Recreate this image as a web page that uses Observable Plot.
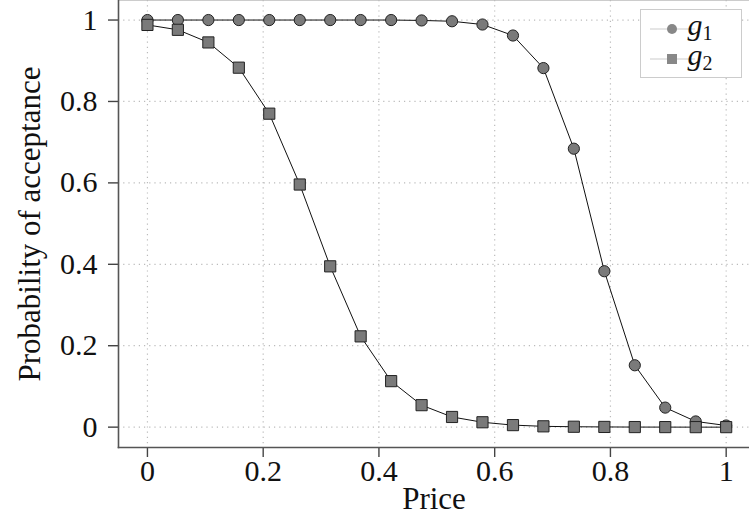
<!DOCTYPE html>
<html>
<head>
<meta charset="utf-8">
<script src="https://cdn.jsdelivr.net/npm/d3@7"></script>
<script src="https://cdn.jsdelivr.net/npm/@observablehq/plot@0.6"></script>
<style>
  html, body { margin: 0; padding: 0; background: #fff; }
  #chart { position: relative; width: 749px; height: 526px; }
</style>
</head>
<body>
<div id="chart"></div>
<script>
// Data
const price = [0, 0.0526, 0.1053, 0.1579, 0.2105, 0.2632, 0.3158, 0.3684, 0.4211, 0.4737,
               0.5263, 0.5789, 0.6316, 0.6842, 0.7368, 0.7895, 0.8421, 0.8947, 0.9474, 1];
const g1 = [1, 1, 1, 1, 1, 1, 1, 1, 1, 0.999,
            0.997, 0.989, 0.962, 0.882, 0.684, 0.383, 0.152, 0.048, 0.014, 0.004];
const g2 = [0.988, 0.976, 0.945, 0.883, 0.770, 0.596, 0.395, 0.223, 0.113, 0.054,
            0.025, 0.012, 0.005, 0.002, 0.001, 0.0005, 0.0002, 0.0001, 0, 0];
const xTicks = [0, 0.2, 0.4, 0.6, 0.8, 1];
const yTicks = [0, 0.2, 0.4, 0.6, 0.8, 1];
const seriesNames = ["g1", "g2"];
const xLabel = "Price";
const yLabel = "Probability of acceptance";

const d1 = price.map((p, i) => ({x: p, y: g1[i]}));
const d2 = price.map((p, i) => ({x: p, y: g2[i]}));

const FONT = "Liberation Serif";
const fmt = d => String(d);

const plot = Plot.plot({
  width: 749,
  height: 526,
  marginLeft: 118,
  marginRight: 0,
  marginTop: 0,
  marginBottom: 79,
  style: {fontSize: "30px", color: "#111", background: "#fff"},
  x: {domain: [-0.05, 1.0403], ticks: xTicks, tickFormat: fmt, label: null},
  y: {domain: [-0.05, 1.048], ticks: yTicks, tickFormat: fmt, label: null},
  marks: [
    Plot.frame({stroke: "#ccc", strokeWidth: 1}),
    Plot.gridX(xTicks, {stroke: "#bbb", strokeOpacity: 1, strokeDasharray: "1.2,4", strokeWidth: 1.2}),
    Plot.gridY(yTicks, {stroke: "#bbb", strokeOpacity: 1, strokeDasharray: "1.2,4", strokeWidth: 1.2}),
    Plot.axisX(xTicks, {tickSize: 10, tickPadding: 2, tickFormat: fmt, stroke: "#444", strokeWidth: 1.4, fontSize: 30, label: null}),
    Plot.axisY(yTicks, {tickSize: 10, tickPadding: 11, tickFormat: fmt, stroke: "#444", strokeWidth: 1.4, fontSize: 30, label: null}),
    Plot.frame({anchor: "left", stroke: "#555", strokeWidth: 1.6}),
    Plot.frame({anchor: "bottom", stroke: "#555", strokeWidth: 1.6}),
    Plot.line(d1, {x: "x", y: "y", stroke: "#111", strokeWidth: 1}),
    Plot.dot(d1, {x: "x", y: "y", r: 5.6, symbol: "circle", fill: "#7a7a7a", stroke: "#222", strokeWidth: 1}),
    Plot.line(d2, {x: "x", y: "y", stroke: "#111", strokeWidth: 1}),
    Plot.dot(d2, {x: "x", y: "y", r: 6.3, symbol: "square", fill: "#7a7a7a", stroke: "#222", strokeWidth: 1}),
    Plot.text([xLabel], {frameAnchor: "bottom", dy: 61, fontSize: 31, fill: "#111"}),
    Plot.text([yLabel], {frameAnchor: "left", textAnchor: "middle", dx: -88, rotate: -90, fontSize: 31, fill: "#111"})
  ]
});

const svg = d3.select(plot);
// Legend
const lg = svg.append("g");
lg.append("rect").attr("x", 640.5).attr("y", 9.5).attr("width", 101).attr("height", 68)
  .attr("fill", "#fff").attr("stroke", "#ccc").attr("stroke-width", 1);
const rows = [{name: seriesNames[0], sub: "1", sym: "circle", y: 29}, {name: seriesNames[1], sub: "2", sym: "square", y: 59}];
rows.forEach(r => {
  lg.append("line").attr("x1", 650).attr("x2", 695).attr("y1", r.y).attr("y2", r.y)
    .attr("stroke", "#ccc").attr("stroke-width", 1.2);
  if (r.sym === "circle") {
    lg.append("circle").attr("cx", 672).attr("cy", r.y).attr("r", 5).attr("fill", "#888");
  } else {
    lg.append("rect").attr("x", 667).attr("y", r.y - 5).attr("width", 10).attr("height", 10).attr("fill", "#888");
  }
  const t = lg.append("text").attr("x", 700).attr("y", r.y + 6).attr("font-size", 30).attr("fill", "#111");
  t.append("tspan").attr("font-style", "italic").text(r.name.charAt(0));
  t.append("tspan").attr("font-size", 20).attr("dy", 5).text(r.sub);
});

// Force serif font on every text
svg.attr("font-family", FONT).style("font-family", FONT);
svg.selectAll("g").style("font-family", FONT);
svg.selectAll("text").attr("font-family", FONT).style("font-family", FONT);

document.getElementById("chart").appendChild(plot);
</script>
</body>
</html>
